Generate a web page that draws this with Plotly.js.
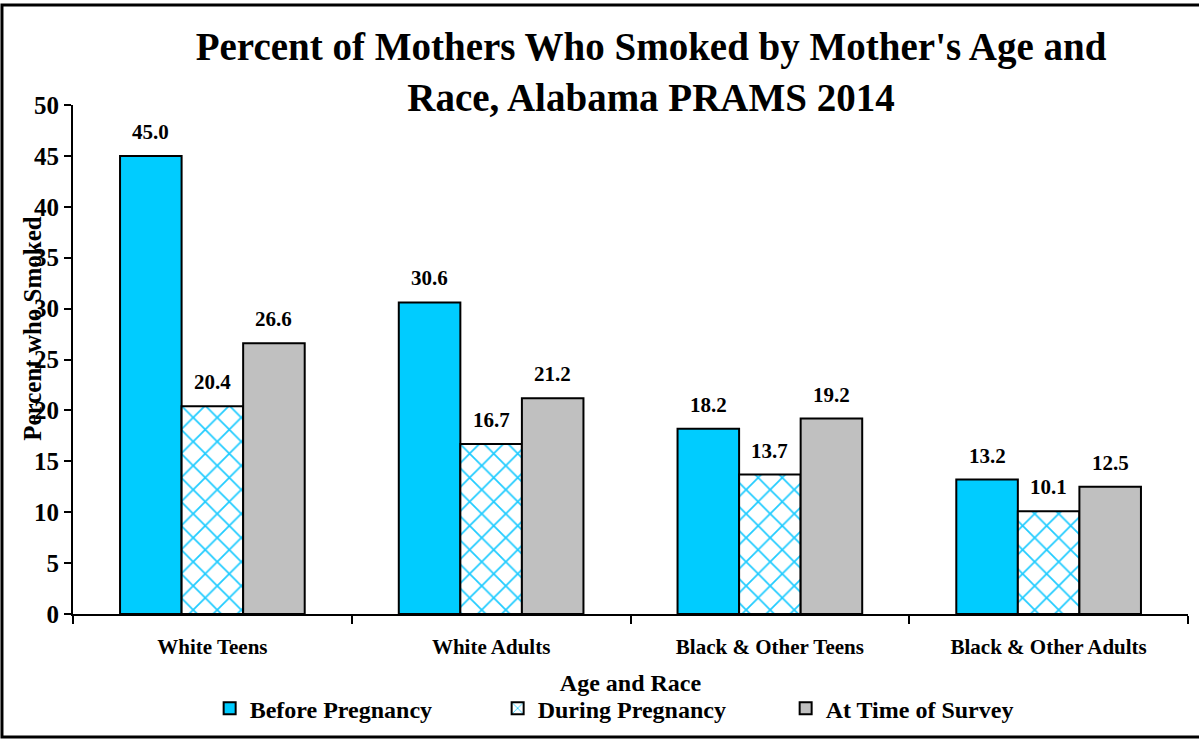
<!DOCTYPE html>
<html>
<head>
<meta charset="utf-8">
<script src="https://cdn.plot.ly/plotly-3.0.1.min.js"></script>
<style>html,body{margin:0;padding:0;background:#fff;}#chart{width:1199px;height:739px;}</style>
</head>
<body>
<div id="chart"></div>
<script>
const categories = ["White Teens", "White Adults", "Black & Other Teens", "Black & Other Adults"];
const seriesNames = ["Before Pregnancy", "During Pregnancy", "At Time of Survey"];
const beforePregnancy = [45.0, 30.6, 18.2, 13.2];
const duringPregnancy = [20.4, 16.7, 13.7, 10.1];
const atTimeOfSurvey = [26.6, 21.2, 19.2, 12.5];
const yTicks = [0, 5, 10, 15, 20, 25, 30, 35, 40, 45, 50];

const FONT = "Liberation Serif, Times New Roman, serif";
const allSeries = [beforePregnancy, duringPregnancy, atTimeOfSurvey];

const traces = [
  {type: "bar", name: seriesNames[0], x: categories, y: beforePregnancy,
   marker: {color: "#00ccff", line: {color: "#000", width: 2}}},
  {type: "bar", name: seriesNames[1], x: categories, y: duringPregnancy,
   marker: {color: "#ffffff", line: {color: "#000", width: 2},
     pattern: {shape: "x", fgcolor: "#22ccff", bgcolor: "#ffffff", size: 17, solidity: 0.2, fillmode: "replace"}}},
  {type: "bar", name: seriesNames[2], x: categories, y: atTimeOfSurvey,
   marker: {color: "#c0c0c0", line: {color: "#000", width: 2}}}
];

const annotations = [];
const shifts = [-61.5, 0, 61.5];
allSeries.forEach((vals, i) => {
  vals.forEach((v, j) => {
    annotations.push({x: categories[j], y: v, xref: "x", yref: "y", xshift: shifts[i], yshift: 10,
      yanchor: "bottom", showarrow: false, text: v.toFixed(1),
      font: {family: FONT, size: 21, weight: "bold", color: "#000"}});
  });
});
annotations.push({xref: "paper", yref: "paper", x: -0.036, y: 0.562, xanchor: "center", yanchor: "middle",
  textangle: -90, showarrow: false, text: "Percent who Smoked",
  font: {family: FONT, size: 25, weight: "bold", color: "#000"}});

const layout = {
  width: 1199, height: 739,
  margin: {l: 73, r: 11, t: 105, b: 125, autoexpand: false},
  paper_bgcolor: "#fff", plot_bgcolor: "#fff",
  font: {family: FONT, color: "#000"},
  title: {text: "Percent of Mothers Who Smoked by Mother's Age and<br>Race, Alabama PRAMS 2014",
    font: {family: FONT, size: 39, weight: "bold", color: "#000"}, xref: "container", x: 0.543, xanchor: "center",
    yref: "container", y: 0.919, yanchor: "top"},
  barmode: "group", bargap: 0.3375, bargroupgap: 0,
  showlegend: true,
  legend: {orientation: "h", x: 0.51, xanchor: "center", y: -0.186, yanchor: "middle",
    font: {family: FONT, size: 24, weight: "bold", color: "#000"}, entrywidth: 243, entrywidthmode: "pixels",
    itemwidth: 30, traceorder: "normal"},
  xaxis: {type: "category", showline: true, linecolor: "#000", linewidth: 2, showgrid: false, automargin: false,
    ticks: "outside", tickson: "boundaries", ticklen: 8, tickwidth: 2, tickcolor: "#000",
    tickfont: {family: FONT, size: 21, weight: "bold", color: "#000"}, ticklabelstandoff: 13,
    title: {text: "Age and Race", font: {family: FONT, size: 24, weight: "bold", color: "#000"}, standoff: 16}},
  yaxis: {range: [0, 50], tickvals: yTicks, showline: true, linecolor: "#000", linewidth: 2, showgrid: false,
    zeroline: false, automargin: false, ticks: "outside", ticklen: 7, tickwidth: 2, tickcolor: "#000",
    tickfont: {family: FONT, size: 25, weight: "bold", color: "#000"}},
  annotations: annotations,
  shapes: [{type: "rect", xref: "paper", yref: "paper", x0: -0.0637, x1: 1.03, y0: -0.2417, y1: 1.1965,
    line: {color: "#000", width: 3}, fillcolor: "rgba(0,0,0,0)"}]
};

Plotly.newPlot("chart", traces, layout, {displayModeBar: false, staticPlot: true});
</script>
</body>
</html>
